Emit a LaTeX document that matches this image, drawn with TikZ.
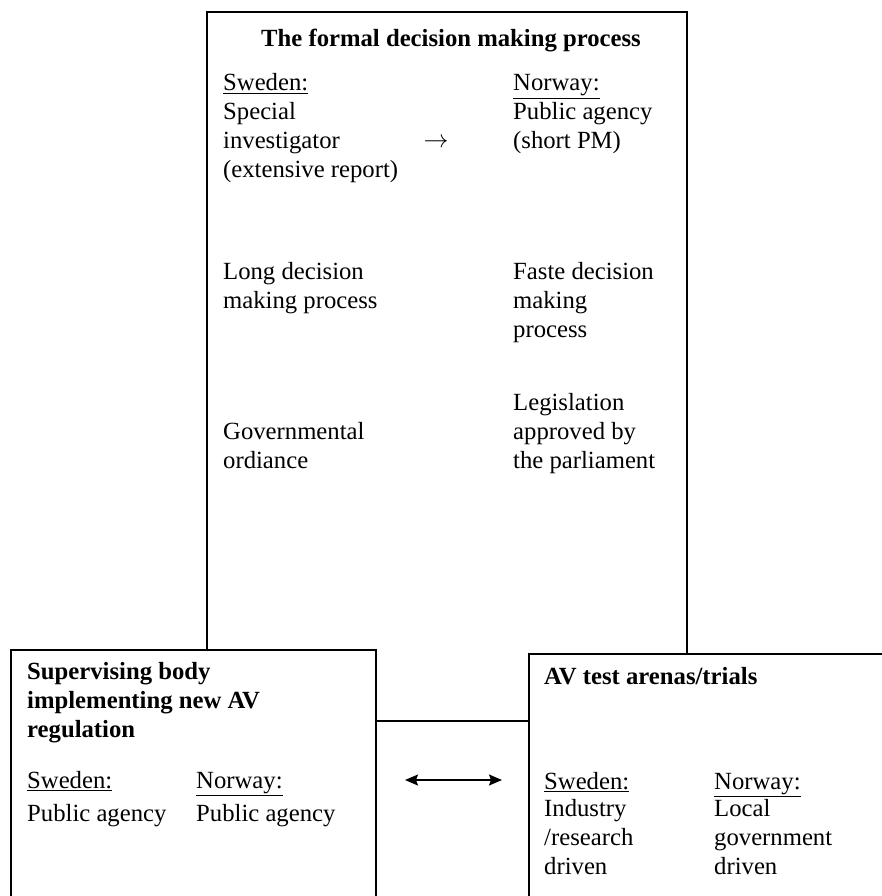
\documentclass[tikz,border=0pt]{standalone}
\usepackage{fontspec}
\setmainfont{Liberation Serif}
\usetikzlibrary{arrows.meta}
\tikzset{
  box/.style={draw=black, line width=1.6pt, fill=white, inner sep=0pt, anchor=north west},
  txt/.style={anchor=base west, inner sep=0pt, align=left, font=\fontsize{24.7}{29}\selectfont},
  btxt/.style={txt, font=\fontsize{24.7}{29}\selectfont\bfseries},
  dbl/.style={line width=1.6pt, {Stealth[length=13pt,width=11pt,inset=2pt]}-{Stealth[length=13pt,width=11pt,inset=2pt]}}
}
\begin{document}
\begin{tikzpicture}[x=1pt,y=-1pt]
\useasboundingbox (0,0) rectangle (882,896);
\clip (0,0) rectangle (882,896);
\fill[white] (0,0) rectangle (882,896);
% main box
\node[box, minimum width=480pt, minimum height=709pt] (main) at (206,11) {};
\node[btxt, anchor=base] (title) at (451,47) {The formal decision making process};
\node[txt] (sw1) at (223,91) {\underline{Sweden:}};
\node[txt] (sw1a) at (223,178) {Special\\investigator\\(extensive report)};
\node[txt, anchor=center] (arr) at (436,143) {$\rightarrow$};
\node[txt] (no1) at (513,91) {\underline{Norway:}};
\node[txt] (no1a) at (513,149) {Public agency\\(short PM)};
\node[txt] (sw1b) at (223,308) {Long decision\\making process};
\node[txt] (no1b) at (513,337) {Faste decision\\making\\process};
\node[txt] (sw1c) at (223,468) {Governmental\\ordiance};
\node[txt] (no1c) at (513,468) {Legislation\\approved by\\the parliament};
% left box
\node[box, minimum width=365pt, minimum height=280pt] (left) at (10,649) {};
\node[btxt] (lt) at (27,737) {Supervising body\\implementing new AV\\regulation};
\node[txt] (lsw) at (27,788) {\underline{Sweden:}};
\node[txt] (lno) at (196,788) {\underline{Norway:}};
\node[txt] (lswa) at (27,821) {Public agency};
\node[txt] (lnoa) at (196,821) {Public agency};
% right box
\node[box, minimum width=380pt, minimum height=280pt] (right) at (528,653) {};
\node[btxt] (rt) at (544,684) {AV test arenas/trials};
\node[txt] (rsw) at (544,789) {\underline{Sweden:}};
\node[txt] (rno) at (714,789) {\underline{Norway:}};
\node[txt] (rswa) at (544,874) {Industry\\/research\\driven};
\node[txt] (rnoa) at (714,874) {Local\\government\\driven};
% double arrow
\coordinate (aL) at (405,780);
\coordinate (aR) at (502,780);
\draw[dbl] (aL) -- (aR);
\end{tikzpicture}
\end{document}
